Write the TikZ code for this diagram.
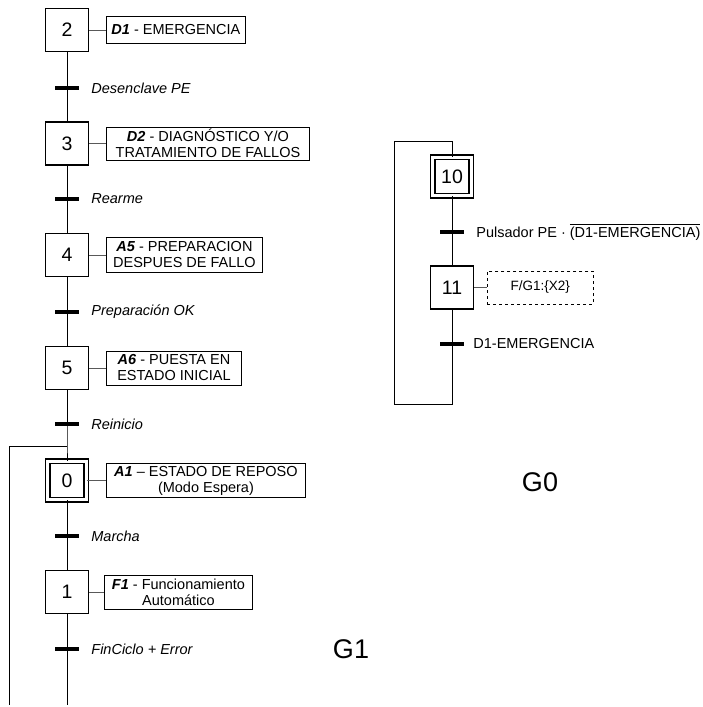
\documentclass[tikz,border=0pt]{standalone}
\usepackage{fontspec}
\setmainfont{Liberation Sans}
\usetikzlibrary{positioning}
\newcommand\sobrelinea[1]{\leavevmode\vbox{\hrule height 0.8pt\kern2pt\hbox{#1}}}

\begin{document}
\begin{tikzpicture}[
  x=1pt, y=-1pt,
  etapa/.style={draw, line width=1.3pt, minimum size=43pt, inner sep=0pt,
                font=\fontsize{19.5}{21}\selectfont},
  etapaini/.style={etapa, double, line width=1.2pt, double distance=3.2pt,
                   minimum size=38.5pt},
  accion/.style={draw, line width=0.9pt, align=center, inner sep=1pt,
                 anchor=west, font=\fontsize{14.5}{16}\selectfont},
  trans/.style={fill, minimum width=24pt, minimum height=3.2pt, inner sep=0pt},
  cond/.style={font=\fontsize{14.5}{16}\selectfont\itshape, inner sep=0pt},
  enlace/.style={draw=black!65, line width=0.7pt},
  linea/.style={line width=0.9pt},
  grafcet/.style={font=\fontsize{27}{29}\selectfont}
]
  \useasboundingbox (0,0) rectangle (702,707);

  % G1
  \node[etapa] (s2) at (67,30) {2};
  \node[accion, minimum width=139pt, minimum height=27pt] (a2) at (106,30)
    {\textbf{\textit{D1}} - EMERGENCIA};
  \node[trans] (t23) at (67,88) {};
  \node[cond, right=12pt of t23] (c23) {Desenclave PE};
  \node[etapa] (s3) at (67,143.5) {3};
  \node[accion, minimum width=203pt, minimum height=33pt] (a3) at (106,143.5)
    {\textbf{\textit{D2}} - DIAGNÓSTICO Y/O\\TRATAMIENTO DE FALLOS};
  \node[trans] (t34) at (67,199) {};
  \node[cond, right=12pt of t34] (c34) {Rearme};
  \node[etapa] (s4) at (67,255) {4};
  \node[accion, minimum width=156pt, minimum height=35pt] (a4) at (106,255)
    {\textbf{\textit{A5}} - PREPARACION\\DESPUES DE FALLO};
  \node[trans] (t45) at (67,312) {};
  \node[cond, right=12pt of t45] (c45) {Preparación OK};
  \node[etapa] (s5) at (67,368) {5};
  \node[accion, minimum width=135pt, minimum height=34pt] (a5) at (106,368)
    {\textbf{\textit{A6}} - PUESTA EN\\ESTADO INICIAL};
  \node[trans] (t50) at (67,424) {};
  \node[cond, right=12pt of t50] (c50) {Reinicio};
  \coordinate (j0) at (67,446);
  \coordinate (lt) at (9,446);
  \coordinate (lb) at (9,705);
  \node[etapaini] (s0) at (67,480.5) {0};
  \node[accion, minimum width=199pt, minimum height=34pt] (a0) at (106,480.5)
    {\textbf{\textit{A1}} – ESTADO DE REPOSO\\(Modo Espera)};
  \node[trans] (t01) at (67,536) {};
  \node[cond, right=12pt of t01] (c01) {Marcha};
  \node[etapa] (s1) at (67,592) {1};
  \node[accion, minimum width=148pt, minimum height=34pt] (a1) at (104,592)
    {\textbf{\textit{F1}} - Funcionamiento\\Automático};
  \node[trans] (t1x) at (67,649) {};
  \node[cond, right=12pt of t1x] (c1x) {FinCiclo + Error};
  \coordinate (mb) at (67,705);

  \draw[linea] (s2) -- (t23) -- (s3) -- (t34) -- (s4) -- (t45) -- (s5)
    -- (t50) -- (j0) -- (s0) -- (t01) -- (s1) -- (t1x) -- (mb);
  \draw[linea] (j0) -- (lt) -- (lb);
  \foreach \e in {2,3,4,5,0,1}
    \draw[enlace] (s\e.east) -- (a\e.west);

  % G0
  \node[etapaini] (s10) at (452,176.5) {10};
  \node[trans] (t1011) at (452,232) {};
  \node[cond, font=\fontsize{14.5}{16}\selectfont, right=12pt of t1011] (c1011)
    {Pulsador PE · \sobrelinea{(D1-EMERGENCIA)}};
  \node[etapa] (s11) at (452,287.5) {11};
  \node[accion, dashed, line width=0.7pt, minimum width=106pt, minimum height=33pt,
        font=\fontsize{13.5}{15}\selectfont] (a11) at (487,287.5) {F/G1:\{X2\}};
  \node[trans] (t11) at (452,344) {};
  \node[cond, font=\fontsize{14.5}{16}\selectfont, right=9pt of t11] (c11)
    {D1-EMERGENCIA};
  \coordinate (rb) at (452,404);
  \coordinate (rlb) at (394,404);
  \coordinate (rl) at (394,141);
  \coordinate (rt) at (452,141);

  \draw[linea] (s10) -- (t1011) -- (s11) -- (t11) -- (rb) -- (rlb) -- (rl)
    -- (rt) -- (s10);
  \draw[enlace] (s11.east) -- (a11.west);

  \node[grafcet] (g1) at (351,649) {G1};
  \node[grafcet] (g0) at (540,482) {G0};
\end{tikzpicture}
\end{document}
